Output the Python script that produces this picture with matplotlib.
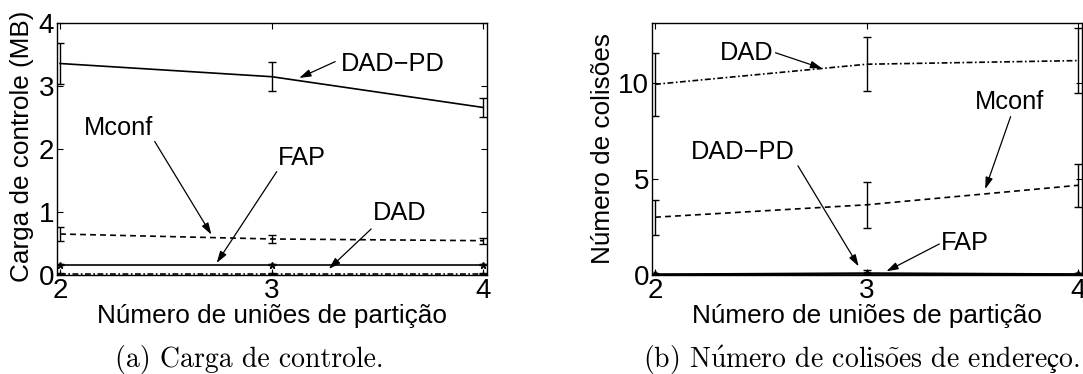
import matplotlib
matplotlib.use("Agg")
import matplotlib.pyplot as plt

plt.rcParams['font.family'] = ['Liberation Sans', 'DejaVu Sans']
plt.rcParams['mathtext.fontset'] = 'cm'

# Number of partition merges
merges = [2, 3, 4]
merge_labels = ['2', '3', '4']

# (a) Control overhead (MB): mean and error half-width
carga_dadpd = [3.36, 3.15, 2.66]
carga_dadpd_err = [0.33, 0.235, 0.145]
carga_mconf = [0.646, 0.567, 0.54]
carga_mconf_err = [0.105, 0.06, 0.045]
carga_fap = [0.16, 0.16, 0.16]
carga_fap_err = [0.01, 0.01, 0.01]
carga_dad = [0.015, 0.015, 0.015]
carga_dad_err = [0.005, 0.005, 0.005]
carga_yticks = [0, 1, 2, 3, 4]

# (b) Address collisions
col_dad = [9.95, 11.0, 11.19]
col_dad_err = [1.66, 1.42, 1.7]
col_mconf = [3.0, 3.65, 4.67]
col_mconf_err = [0.92, 1.2, 1.12]
col_dadpd = [0.02, 0.08, 0.03]
col_dadpd_err = [0.02, 0.17, 0.03]
col_fap = [0.01, 0.03, 0.01]
col_fap_err = [0.01, 0.01, 0.01]
col_yticks = [0, 5, 10]

fig = plt.figure(figsize=(10.83, 3.74), dpi=100)
W, H = 1083, 374
ax_w = 430 / W
ax_b = 1 - 274.6 / H
ax_h = (274.6 - 23.3) / H
ax1 = fig.add_axes([56.7 / W, ax_b, ax_w, ax_h])
ax2 = fig.add_axes([651.7 / W, ax_b, ax_w, ax_h])

LW = 1.2
TICK_FS = 20
LABEL_FS = 18.8
NOTE_FS = 18.3
CAPTION_FS = 20
eb_kw = dict(color='k', ecolor='k', elinewidth=1.0, capsize=3.2, capthick=1.0)


def series(ax, y, err, ls, marker=None, ms=5):
    ax.errorbar(merges, y, yerr=err, linestyle=ls, linewidth=LW,
                marker=marker, markersize=ms, **eb_kw)


def arrow(ax, tail, head):
    ax.annotate('', xy=head, xytext=tail,
                arrowprops=dict(arrowstyle='-|>,head_length=0.7,head_width=0.22',
                                color='k', lw=0.9, shrinkA=0, shrinkB=0))


def style(ax, ylim, yticks):
    ax.set_xlim(1.984, 4.016)
    ax.set_ylim(*ylim)
    ax.set_xticks(merges)
    ax.set_xticklabels(merge_labels)
    ax.set_yticks(yticks)
    ax.tick_params(direction='in', length=4, width=0.8, top=True, right=True,
                   labelsize=TICK_FS)
    ax.tick_params(axis='x', pad=2.5)
    ax.tick_params(axis='y', pad=2)
    for s in ax.spines.values():
        s.set_linewidth(1.0)
    ax.set_xlabel('Número de uniões de partição', fontsize=LABEL_FS, va='center')
    ax.xaxis.set_label_coords(0.5, -0.163)


# ---- (a) Carga de controle ----
series(ax1, carga_dadpd, carga_dadpd_err, '-')
series(ax1, carga_mconf, carga_mconf_err, (0, (3.5, 2.5)))
series(ax1, carga_fap, carga_fap_err, '-', marker='*', ms=5)
series(ax1, carga_dad, carga_dad_err, (0, (3.5, 1.5, 1, 1.5)), marker='+', ms=5)
style(ax1, (0, 4), carga_yticks)
ax1.set_ylabel('Carga de controle (MB)', fontsize=LABEL_FS, va='center')
ax1.yaxis.set_label_coords(-0.0807, 0.51)

tk = dict(fontsize=NOTE_FS, va='center', ha='left')
ax1.text(3.325, 3.36, 'DAD−PD', **tk)
arrow(ax1, (3.30, 3.39), (3.13, 3.13))
ax1.text(2.114, 2.33, 'Mconf', **tk)
arrow(ax1, (2.447, 2.12), (2.715, 0.636))
ax1.text(3.03, 1.85, 'FAP', **tk)
arrow(ax1, (3.024, 1.64), (2.74, 0.185))
ax1.text(3.48, 0.98, 'DAD', **tk)
arrow(ax1, (3.47, 0.726), (3.27, 0.09))

# ---- (b) Número de colisões ----
series(ax2, col_dad, col_dad_err, (0, (3.5, 1.5, 1, 1.5)))
series(ax2, col_mconf, col_mconf_err, (0, (3.5, 2.5)))
series(ax2, col_dadpd, col_dadpd_err, '-', marker='*', ms=5)
series(ax2, col_fap, col_fap_err, '-', marker='*', ms=5)
style(ax2, (0, 13.14), col_yticks)
ax2.set_ylabel('Número de colisões', fontsize=LABEL_FS, va='center')
ax2.yaxis.set_label_coords(-0.1133, 0.5)

ax2.text(2.307, 11.57, 'DAD', **tk)
arrow(ax2, (2.569, 11.6), (2.79, 10.78))
ax2.text(3.51, 9.04, 'Mconf', **tk)
arrow(ax2, (3.68, 8.26), (3.56, 4.47))
ax2.text(2.17, 6.43, 'DAD−PD', **tk)
arrow(ax2, (2.675, 5.69), (2.962, 0.43))
ax2.text(3.35, 1.65, 'FAP', **tk)
arrow(ax2, (3.343, 1.6), (3.093, 0.17))

# Sub-figure captions (Computer Modern look; accented letters through mathtext)
cap = dict(fontsize=CAPTION_FS, ha='center', va='baseline',
           family=['cmr10', 'DejaVu Serif'])
fig.text(249 / W, 1 - 367 / H, '(a) Carga de controle.', **cap)
fig.text(862 / W, 1 - 367 / H,
         r'(b) N$\mathrm{\acute{u}}$mero de colis$\mathrm{\tilde{o}}$es de '
         r'endere$\mathrm{ç}$o.',
         **cap)

fig.savefig('out.png', dpi=100)
